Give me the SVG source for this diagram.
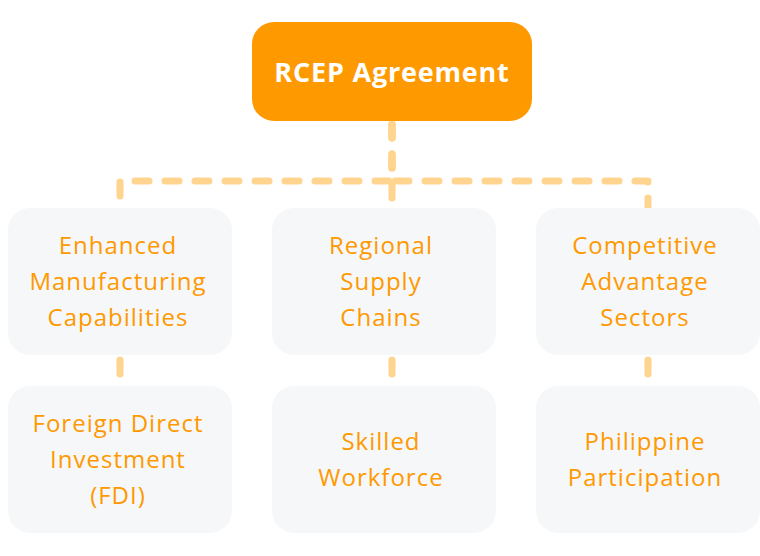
<svg xmlns="http://www.w3.org/2000/svg" width="760" height="556" viewBox="0 0 760 556">
<style>
.box{fill:#F6F7F9;}
.lbl{font-family:"Open Sans","Liberation Sans",sans-serif;font-size:24px;font-weight:500;letter-spacing:1px;fill:#FF9900;text-anchor:middle;}
.title{font-family:"Open Sans","Liberation Sans",sans-serif;font-size:27px;font-weight:700;letter-spacing:0.8px;fill:#FFFFFF;text-anchor:middle;}
.edge{fill:none;stroke:#FFD48E;stroke-width:7;stroke-linecap:round;stroke-linejoin:round;stroke-dasharray:14 16;}
</style>
<rect width="760" height="556" fill="#FFFFFF"/>
<g id="connectors">
<path class="edge" d="M392 124 V181 H120 V206"/>
<path class="edge" d="M392 124 V206"/>
<path class="edge" d="M392 124 V181 H648 V206"/>
<path class="edge" d="M120 360 V374"/>
<path class="edge" d="M392 360 V377"/>
<path class="edge" d="M648 360 V374"/>
</g>
<g id="rcep">
<rect x="252" y="22" width="280" height="99" rx="22" fill="#FF9900"/>
<text class="title" x="392" y="82">RCEP Agreement</text>
</g>
<g id="manufacturing">
<rect class="box" x="8" y="208" width="224" height="147" rx="22"/>
<text class="lbl" x="118" y="254">Enhanced</text>
<text class="lbl" x="118" y="290">Manufacturing</text>
<text class="lbl" x="118" y="326">Capabilities</text>
</g>
<g id="supply">
<rect class="box" x="272" y="208" width="224" height="147" rx="22"/>
<text class="lbl" x="381" y="254">Regional</text>
<text class="lbl" x="381" y="290">Supply</text>
<text class="lbl" x="381" y="326">Chains</text>
</g>
<g id="competitive">
<rect class="box" x="536" y="208" width="224" height="147" rx="22"/>
<text class="lbl" x="645" y="254">Competitive</text>
<text class="lbl" x="645" y="290">Advantage</text>
<text class="lbl" x="645" y="326">Sectors</text>
</g>
<g id="fdi">
<rect class="box" x="8" y="386" width="224" height="147" rx="22"/>
<text class="lbl" x="118" y="432">Foreign Direct</text>
<text class="lbl" x="118" y="468">Investment</text>
<text class="lbl" x="118" y="504">(FDI)</text>
</g>
<g id="workforce">
<rect class="box" x="272" y="386" width="224" height="147" rx="22"/>
<text class="lbl" x="381" y="450">Skilled</text>
<text class="lbl" x="381" y="486">Workforce</text>
</g>
<g id="philippine">
<rect class="box" x="536" y="386" width="224" height="147" rx="22"/>
<text class="lbl" x="645" y="450">Philippine</text>
<text class="lbl" x="645" y="486">Participation</text>
</g>
</svg>
